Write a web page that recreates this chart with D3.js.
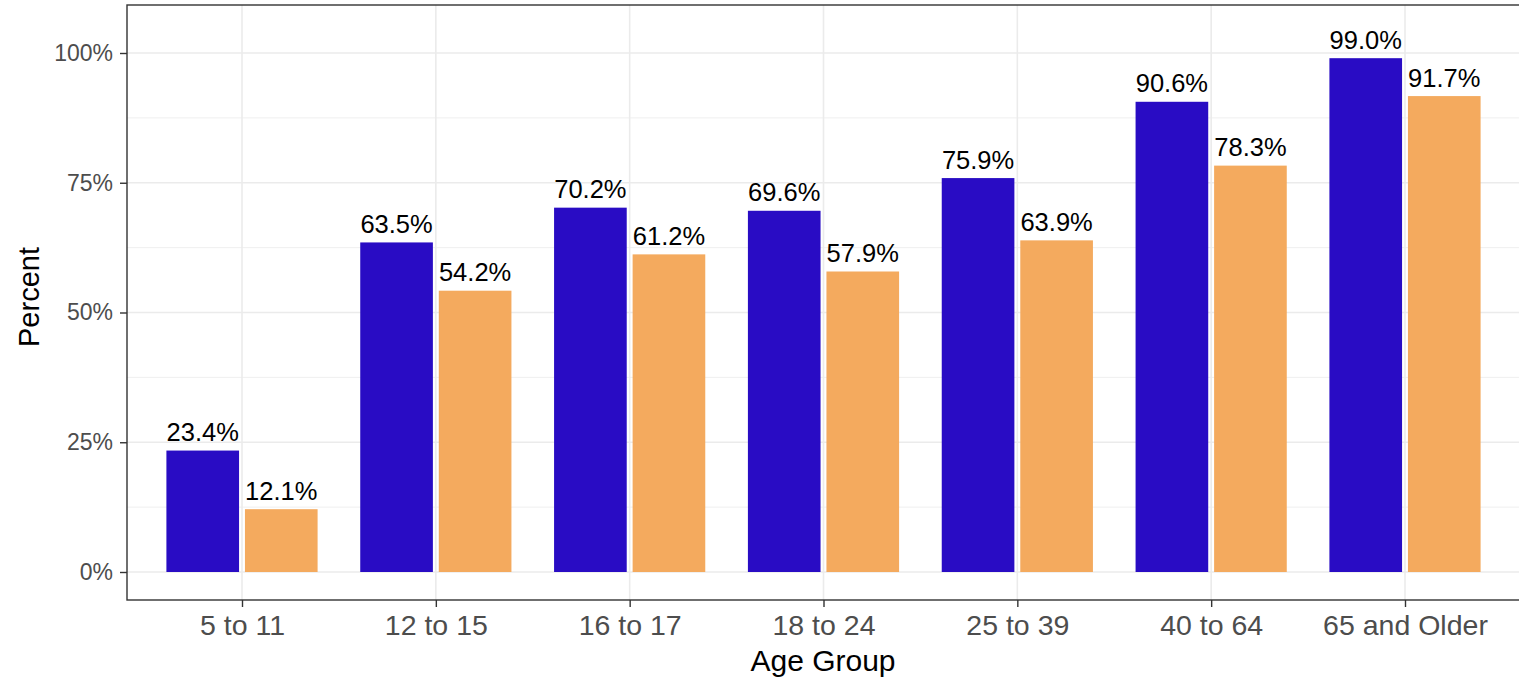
<!DOCTYPE html>
<html>
<head>
<meta charset="utf-8">
<script src="https://cdn.jsdelivr.net/npm/d3@7"></script>
<style>
    body { margin: 0; background: #fff; }
    text { font-family: "Liberation Sans", Arial, sans-serif; }
</style>
</head>
<body>
<svg id="chart"></svg>
<script>
var ageGroups = ['5 to 11', '12 to 15', '16 to 17', '18 to 24', '25 to 39', '40 to 64', '65 and Older'];
var seriesA = [23.4, 63.5, 70.2, 69.6, 75.9, 90.6, 99.0];
var seriesB = [12.1, 54.2, 61.2, 57.9, 63.9, 78.3, 91.7];
var seriesKeys = ['a', 'b'];
var majorTicks = [0, 25, 50, 75, 100];
var minorTicks = [12.5, 37.5, 62.5, 87.5];

var $svg = {width: 1519, height: 680};
var $panel = {left: 127, right: 1521, top: 5, bottom: 600};
var $colors = {a: '#290CC4', b: '#F4AA5E'};

function init () {
    $svg.main = (
        d3.select('svg#chart')
        .attr('width', $svg.width)
        .attr('height', $svg.height)
    );

    var y = d3.scaleLinear().domain([0, 100]).range([572, 53]);
    var x = d3.scalePoint().domain(ageGroups).range([242, 1405]);
    var step = x.step();
    var inner = (
        d3.scaleBand()
        .domain(seriesKeys)
        .range([-0.39 * step, 0.39 * step])
        .paddingInner(0.075)
    );

    var grid = $svg.main.append('g');
    grid.selectAll('line.minor')
        .data(minorTicks)
        .join('line')
        .attr('x1', $panel.left).attr('x2', $panel.right)
        .attr('y1', d => y(d)).attr('y2', d => y(d))
        .attr('stroke', '#EBEBEB').attr('stroke-width', 0.8);
    grid.selectAll('line.major')
        .data(majorTicks)
        .join('line')
        .attr('x1', $panel.left).attr('x2', $panel.right)
        .attr('y1', d => y(d)).attr('y2', d => y(d))
        .attr('stroke', '#EBEBEB').attr('stroke-width', 1.6);
    grid.selectAll('line.vert')
        .data(ageGroups)
        .join('line')
        .attr('x1', d => x(d)).attr('x2', d => x(d))
        .attr('y1', $panel.top).attr('y2', $panel.bottom)
        .attr('stroke', '#EBEBEB').attr('stroke-width', 1.6);

    var rows = [];
    ageGroups.forEach((g, i) => {
        rows.push({group: g, key: 'a', value: seriesA[i]});
        rows.push({group: g, key: 'b', value: seriesB[i]});
    });

    $svg.main.append('g')
        .selectAll('rect')
        .data(rows)
        .join('rect')
        .attr('x', d => x(d.group) + inner(d.key))
        .attr('width', inner.bandwidth())
        .attr('y', d => y(d.value))
        .attr('height', d => y(0) - y(d.value))
        .attr('fill', d => $colors[d.key]);

    $svg.main.append('g')
        .selectAll('text')
        .data(rows)
        .join('text')
        .attr('x', d => x(d.group) + inner(d.key) + inner.bandwidth() / 2)
        .attr('y', d => y(d.value) - 9.5)
        .attr('text-anchor', 'middle')
        .attr('font-size', 25.5)
        .attr('fill', '#000')
        .text(d => d.value.toFixed(1) + '%');

    // panel border (theme_bw)
    $svg.main.append('rect')
        .attr('x', $panel.left).attr('y', $panel.top)
        .attr('width', $panel.right - $panel.left)
        .attr('height', $panel.bottom - $panel.top)
        .attr('fill', 'none')
        .attr('stroke', '#333333').attr('stroke-width', 1.4);

    // y axis
    var yAxis = (
        $svg.main.append('g')
        .attr('transform', `translate(${$panel.left},0)`)
        .call(d3.axisLeft(y).tickValues(majorTicks).tickSize(7).tickPadding(7).tickFormat(d => d + '%'))
    );
    yAxis.select('.domain').remove();
    yAxis.selectAll('.tick line').attr('stroke', '#333333').attr('stroke-width', 1.4);
    yAxis.selectAll('.tick text')
        .attr('font-size', 23)
        .attr('fill', '#4D4D4D')
        .attr('font-family', '"Liberation Sans", Arial, sans-serif');

    // x axis
    var xAxis = (
        $svg.main.append('g')
        .attr('transform', `translate(0,${$panel.bottom})`)
        .call(d3.axisBottom(x).tickSize(7).tickPadding(8))
    );
    xAxis.select('.domain').remove();
    xAxis.selectAll('.tick line').attr('stroke', '#333333').attr('stroke-width', 1.4);
    xAxis.selectAll('.tick text')
        .attr('font-size', 28.5)
        .attr('fill', '#4D4D4D')
        .attr('font-family', '"Liberation Sans", Arial, sans-serif');

    // axis titles
    $svg.main.append('text')
        .attr('x', ($panel.left + $panel.right) / 2 - 1)
        .attr('y', 671)
        .attr('text-anchor', 'middle')
        .attr('font-size', 30)
        .attr('fill', '#000')
        .text('Age Group');

    $svg.main.append('text')
        .attr('transform', 'translate(39,297) rotate(-90)')
        .attr('text-anchor', 'middle')
        .attr('font-size', 29)
        .attr('fill', '#000')
        .text('Percent');
}

init();
</script>
</body>
</html>
